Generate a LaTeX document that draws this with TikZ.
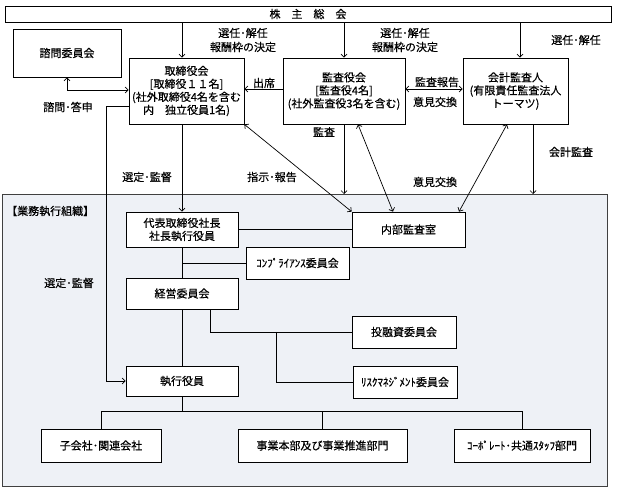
\documentclass[tikz,border=0pt]{standalone}
\usepackage{fontspec}
\setmainfont{Noto Sans CJK JP}[FakeBold=0.5]
\usetikzlibrary{arrows.meta,shadows}
\definecolor{panelcol}{HTML}{EEF1F6}
\begin{document}
\begin{tikzpicture}[x=1pt,y=-1pt,
  txt/.style={font=\fontsize{11}{13}\selectfont},
  box/.style={txt,draw=black,fill=white,line width=0.7pt,inner sep=0pt,align=center,
    drop shadow={shadow xshift=0.8pt,shadow yshift=-0.8pt,fill=black,opacity=0.45}},
  lbl/.style={txt,inner sep=0pt,align=center,font=\fontsize{11}{14}\selectfont},
  ln/.style={line width=0.7pt},
  arr/.style={ln,-{Straight Barb[length=3pt,width=6pt]}},
  darr/.style={ln,{Straight Barb[length=3pt,width=6pt]}-{Straight Barb[length=3pt,width=6pt]}}]
\useasboundingbox (0,0) rectangle (619,497);
% panel
\node[draw=black!75,line width=1.2pt,fill=panelcol,minimum width=605pt,minimum height=292pt,
  inner sep=0pt,anchor=north west] (panel) at (2,194) {};
\node[lbl,anchor=west] (org) at (6,211) {【業務執行組織】};
% top section
\node[box,minimum width=606pt,minimum height=16pt] (bar) at (308,14) {株　主　総　会};
\node[box,minimum width=108pt,minimum height=48pt] (shimon) at (67,53) {諮問委員会};
\node[box,minimum width=115pt,minimum height=66pt] (tori) at (186.5,91)
  {取締役会\\{[}取締役１１名{]}\\(社外取締役4名を含む\\内　独立役員1名)};
\node[box,minimum width=122pt,minimum height=66pt] (kansa) at (344,91)
  {監査役会\\{[}監査役4名{]}\\(社外監査役3名を含む)};
\node[box,minimum width=105pt,minimum height=66pt] (kaikei) at (515.5,91)
  {会計監査人\\(有限責任監査法人\\トーマツ)};
% inner boxes
\node[box,minimum width=112pt,minimum height=35pt] (daihyo) at (182,229.5) {代表取締役社長\\社長執行役員};
\node[box,minimum width=113pt,minimum height=35pt] (naibu) at (408.5,229.5) {内部監査室};
\node[box,minimum width=103pt,minimum height=32pt] (comp) at (297.5,263) {ｺﾝﾌﾟﾗｲｱﾝｽ委員会};
\node[box,minimum width=112pt,minimum height=31pt] (keiei) at (182,293.5) {経営委員会};
\node[box,minimum width=104pt,minimum height=32pt] (toyushi) at (404,332) {投融資委員会};
\node[box,minimum width=104pt,minimum height=32pt] (risk) at (405,382) {ﾘｽｸﾏﾈｼﾞﾒﾝﾄ委員会};
\node[box,minimum width=112pt,minimum height=30pt] (shikko) at (182,381) {執行役員};
\node[box,minimum width=120pt,minimum height=33pt] (kogaisha) at (101,445.5) {子会社･関連会社};
\node[box,minimum width=169pt,minimum height=33pt] (jigyo) at (322.5,445.5) {事業本部及び事業推進部門};
\node[box,minimum width=136pt,minimum height=33pt] (corp) at (522,445.5) {ｺｰﾎﾟﾚｰﾄ･共通ｽﾀｯﾌ部門};
% coordinates
\coordinate (L) at (106,0);
\coordinate (rj) at (276,332);
\coordinate (hb) at (182,411);
\coordinate (tn) at ([xshift=-4.5pt]tori.north);
\coordinate (kn) at ([xshift=4.5pt]kaikei.north);
\coordinate (ks) at ([xshift=17.5pt]kaikei.south);
% top arrows
\draw[arr] (bar.south -| tn) -- (tn);
\draw[arr] (bar.south -| kansa.north) -- (kansa.north);
\draw[arr] (bar.south -| kn) -- (kn);
\node[lbl] at (243,40) {選任･解任\\報酬枠の決定};
\node[lbl] at (405,40) {選任･解任\\報酬枠の決定};
\node[lbl] at (576,40) {選任･解任};
% board links
\draw[arr] ([yshift=2pt]kansa.west) -- ([yshift=2pt]tori.east);
\node[lbl] at (264,83) {出席};
\draw[darr] ([yshift=2pt]kansa.east) -- ([yshift=2pt]kaikei.west);
\node[lbl] at (437,82) {監査報告};
\node[lbl] at (435,102) {意見交換};
\draw[darr] (shimon.south) |- ([yshift=1pt]tori.west);
\node[lbl] at (68,107) {諮問･答申};
% supervision left
\draw[arr] ([yshift=-15pt]tori.west) -| (L |- shikko.west) -- (shikko.west);
\node[lbl] at (69,283) {選定･監督};
\draw[arr] ([xshift=-4.5pt]tori.south) -- (daihyo.north);
\node[lbl] at (147,177) {選定･監督};
\draw[darr] (tori.south east) -- (naibu.north west);
\node[lbl] at (272,177) {指示･報告};
\draw[arr] (kansa.south) -- (kansa.south |- panel.north);
\node[lbl] at (324,132) {監査};
\draw[arr] (ks) -- (ks |- panel.north);
\node[lbl] at (571,152) {会計監査};
\draw[darr] ([xshift=14pt]kansa.south) -- ([xshift=-15.5pt]naibu.north);
\draw[darr] ([xshift=-8.5pt]kaikei.south) -- ([xshift=50.5pt]naibu.north);
\node[lbl] at (435,182) {意見交換};
% execution structure
\draw[ln] (daihyo.east) -- (naibu.west);
\draw[ln] (daihyo.south) -- (keiei.north);
\draw[ln] (daihyo.south |- comp.west) -- (comp.west);
\draw[ln] ([xshift=28pt]keiei.south) |- (toyushi.west);
\draw[ln] (rj) |- (risk.west);
\draw[ln] (keiei.south) -- (shikko.north);
\draw[ln] (shikko.south) -- (hb);
\draw[ln] (kogaisha.north) |- (corp.north |- hb) -- (corp.north);
\draw[ln] (jigyo.north) -- (jigyo.north |- hb);
\end{tikzpicture}
\end{document}
